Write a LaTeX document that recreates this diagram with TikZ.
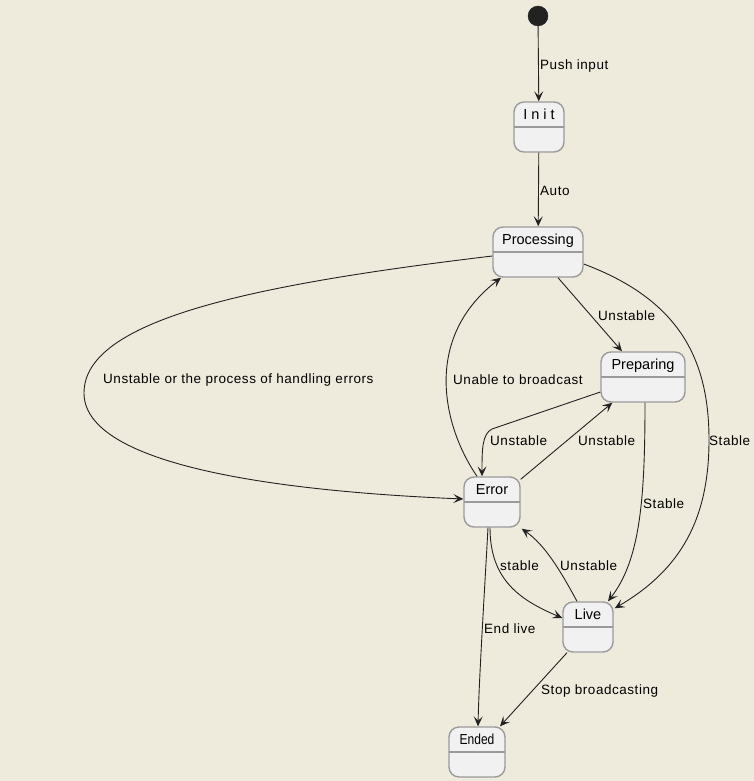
\documentclass[tikz,border=0pt]{standalone}
\usepackage{fontspec}
\setmainfont{Liberation Sans}
\newfontfamily\lblfont[LetterSpace=4]{Liberation Sans}
\usetikzlibrary{arrows.meta,calc}
\definecolor{bgc}{HTML}{EEEBDD}
\definecolor{boxfill}{HTML}{F1F1F1}
\definecolor{boxline}{HTML}{9A9A9A}
\definecolor{edgec}{HTML}{222222}
\tikzset{
  statebox/.style={draw=boxline, line width=1.4pt, fill=boxfill, rounded corners=10pt,
    minimum height=50pt, minimum width=#1, inner sep=0pt,
    path picture={\draw[boxline, line width=1.4pt] (path picture bounding box.west) -- (path picture bounding box.east);}},
  ttl/.style={anchor=base, yshift=-18pt, inner sep=0pt, font=\fontsize{14.5}{16}\selectfont},
  edge/.style={draw=edgec, line width=0.9pt, -{Stealth[length=10pt,width=9pt,inset=4.5pt]}},
  lbl/.style={anchor=west, inner sep=0pt, text=black, font=\lblfont\fontsize{13.5}{16}\selectfont},
  startnode/.style={circle, fill=edgec, draw=edgec, minimum size=20pt, inner sep=0pt}
}
\begin{document}
\begin{tikzpicture}[x=1pt, y=-1pt]
\path[use as bounding box, fill=bgc] (0,0) rectangle (754,781);

\node[startnode] (start) at (538,16) {};
\node[statebox=50pt, label={[ttl]north:I n i t}] (init) at (539,127) {};
\node[statebox=90pt, label={[ttl]north:Processing}] (proc) at (538,252) {};
\node[statebox=84pt, label={[ttl]north:Preparing}] (prep) at (643,377) {};
\node[statebox=56pt, label={[ttl]north:Error}] (err) at (492,502) {};
\node[statebox=50pt, label={[ttl]north:Live}] (live) at (588,627) {};
\node[statebox=56pt, label={[ttl]north:\scalebox{0.83}[1]{Ended}}] (ended) at (477,752) {};

% edges
\draw[edge] (start) -- (init);
\draw[edge] (init) -- (proc);
\draw[edge] ($(proc.south)+(20,0)$) -- ($(prep.north)+(-21,0)$);
\draw[edge] ($(proc.west)+(0,4)$) .. controls (250,285) and (84,320) .. (84,393)
  .. controls (84,460) and (250,490) .. ($(err.west)+(0,-3)$);
\draw[edge] ($(err.north)+(-15,0)$) .. controls (445,430) and (420,340) .. ($(proc.south)+(-37,0)$);
\draw[edge] ($(prep.west)+(0,15)$) -- (492,429) .. controls (482,434) and (482,450) .. ($(err.north)+(-10,0)$);
\draw[edge] ($(err.north east)+(0,3)$) -- ($(prep.south west)+(12,0)$);
\draw[edge] ($(prep.south)+(2,0)$) .. controls (645,500) and (640,560) .. ($(live.north)+(20,0)$);
\draw[edge] ($(proc.east)+(0,12)$) .. controls (680,300) and (709,360) .. (709,440)
  .. controls (709,520) and (680,570) .. ($(live.north east)+(1,7)$);
\draw[edge] ($(err.south)+(-2,0)$) .. controls (490,580) and (520,600) .. ($(live.west)+(0,-9)$);
\draw[edge] ($(live.north)+(-11,0)$) .. controls (560,570) and (545,545) .. ($(err.south east)+(1,1)$);
\draw[edge] ($(err.south)+(-4,0)$) .. controls (484,600) and (479,680) .. ($(ended.north)+(1,0)$);
\draw[edge] ($(live.south)+(-21,0)$) -- ($(ended.north)+(23,0)$);

% labels
\node[lbl] (l1) at (540,66) {Push input};
\node[lbl] (l2) at (540,191) {Auto};
\node[lbl] (l3) at (598,316) {Unstable};
\node[lbl] (l4) at (103,380) {Unstable or the process of handling errors};
\node[lbl] (l5) at (453,380) {Unable to broadcast};
\node[lbl] (l6) at (490,441) {Unstable};
\node[lbl] (l7) at (578,441) {Unstable};
\node[lbl] (l8) at (643,504) {Stable};
\node[lbl] (l9) at (709,441) {Stable};
\node[lbl] (l10) at (500,566) {stable};
\node[lbl] (l11) at (560,566) {Unstable};
\node[lbl] (l12) at (484,629) {End live};
\node[lbl] (l13) at (541,691) {Stop broadcasting};
\end{tikzpicture}
\end{document}
